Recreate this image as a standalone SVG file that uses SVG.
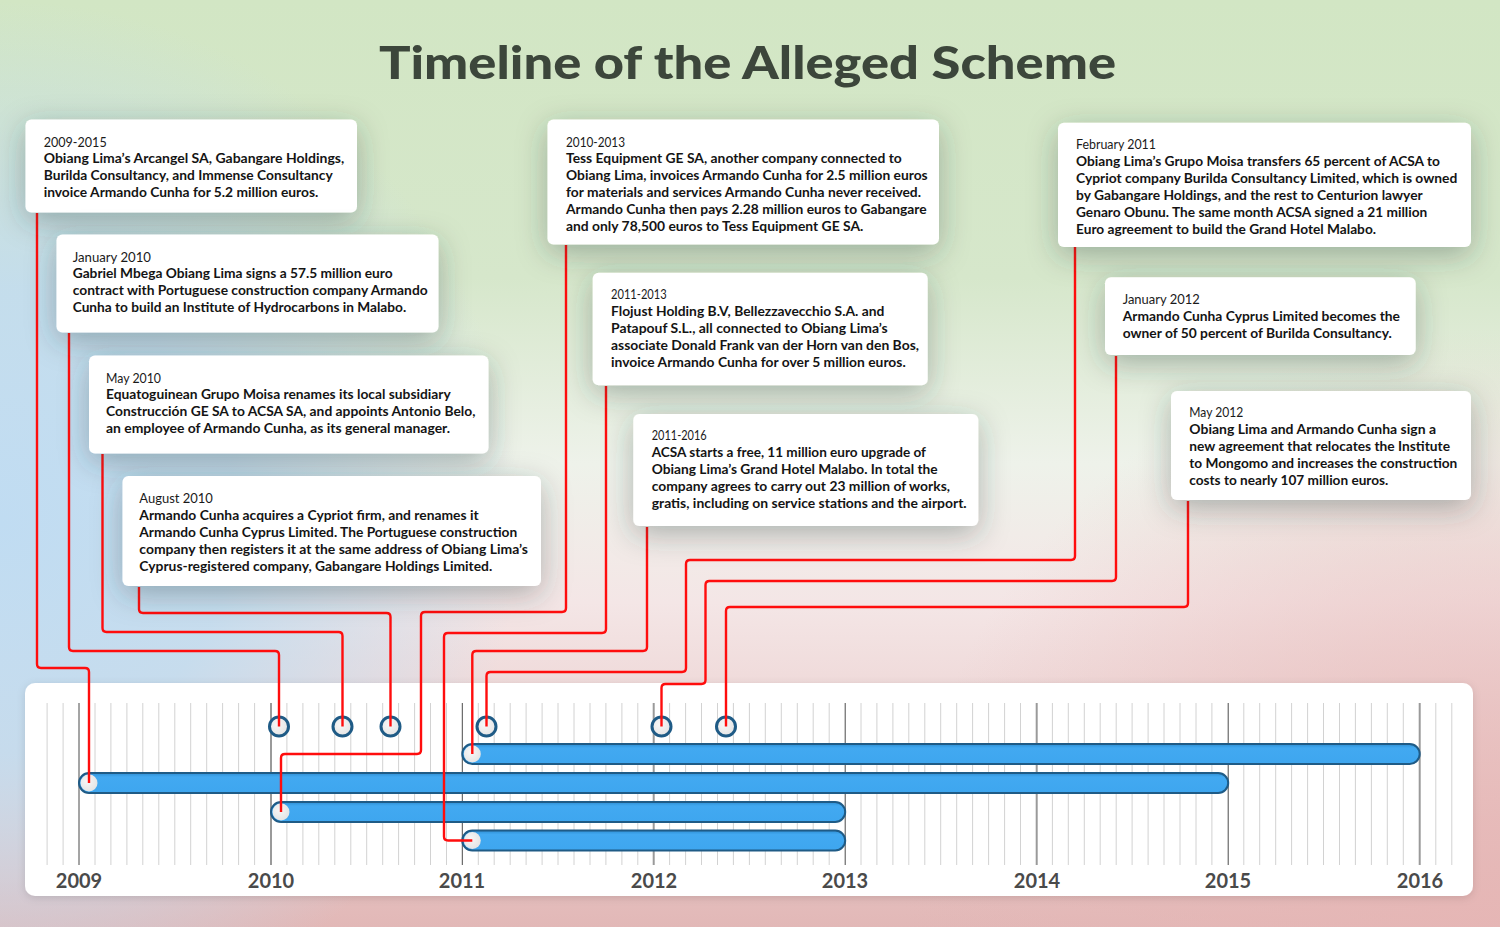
<svg xmlns="http://www.w3.org/2000/svg" width="1500" height="927" viewBox="0 0 1500 927">
<defs>
<linearGradient id="bgv" x1="0" y1="0" x2="0" y2="1">
<stop offset="0" stop-color="#d2e6c4"/>
<stop offset="0.3" stop-color="#d6e7cb"/>
<stop offset="0.5" stop-color="#eef2ea"/>
<stop offset="0.65" stop-color="#f4e6e6"/>
<stop offset="1" stop-color="#e2b8b7"/>
</linearGradient>
<radialGradient id="blue" cx="0" cy="520" r="520" gradientUnits="userSpaceOnUse">
<stop offset="0" stop-color="#c0dcf2" stop-opacity="1"/>
<stop offset="0.45" stop-color="#c2dcef" stop-opacity="0.9"/>
<stop offset="1" stop-color="#c2dcef" stop-opacity="0"/>
</radialGradient>
<radialGradient id="red" cx="1500" cy="927" r="600" gradientUnits="userSpaceOnUse">
<stop offset="0" stop-color="#e6b6b5" stop-opacity="0.9"/>
<stop offset="1" stop-color="#e6b6b5" stop-opacity="0"/>
</radialGradient>
<filter id="sh" x="-25%" y="-40%" width="150%" height="190%">
<feDropShadow dx="0" dy="8" stdDeviation="15" flood-color="#2a3a3a" flood-opacity="0.34"/>
</filter>
<filter id="sh2" x="-5%" y="-20%" width="110%" height="140%">
<feDropShadow dx="0" dy="2" stdDeviation="4" flood-color="#000" flood-opacity="0.12"/>
</filter>
<linearGradient id="barg" x1="0" y1="0" x2="0" y2="1">
<stop offset="0" stop-color="#2f8fd4"/>
<stop offset="0.2" stop-color="#42a9f1"/>
<stop offset="1" stop-color="#3ea6ef"/>
</linearGradient>
<radialGradient id="dot" cx="0.4" cy="0.4" r="0.7">
<stop offset="0" stop-color="#f7f7f7"/>
<stop offset="1" stop-color="#e2e2e2"/>
</radialGradient>
</defs>
<style>
.box{fill:#ffffff;filter:url(#sh)}
.dt{font-family:Lato,"Open Sans","Liberation Sans",sans-serif;font-size:13.5px;font-weight:400;fill:#1a1a1a}
.tx{font-family:Lato,"Open Sans","Liberation Sans",sans-serif;font-size:13.3px;font-weight:700;fill:#141414}
.yr{font-family:Lato,"Open Sans","Liberation Sans",sans-serif;font-size:20px;font-weight:700;fill:#4a4a4a;text-anchor:middle}
.mt{stroke:#d2d2d2;stroke-width:1}
.yo{stroke:#4a4a4a;stroke-width:1}
.ye{stroke:#9a9a9a;stroke-width:2}
.bar{fill:url(#barg);stroke:#1f5b86;stroke-width:2}
.bd{fill:url(#dot)}
.mk{fill:url(#dot);stroke:#1f5b86;stroke-width:3}
.cn{fill:none;stroke:#ff0d0d;stroke-width:2.4;stroke-linejoin:round;stroke-linecap:butt}
</style>

<g id="background">
<rect x="0" y="0" width="1500" height="927" fill="url(#bgv)"/>
<rect x="0" y="0" width="1500" height="927" fill="url(#blue)"/>
<rect x="0" y="0" width="1500" height="927" fill="url(#red)"/>
</g>

<text id="title" x="379" y="79" textLength="737" lengthAdjust="spacingAndGlyphs" style="font-family:Lato,'Open Sans','Liberation Sans',sans-serif;font-size:46px;font-weight:900;fill:#3c463b">Timeline of the Alleged Scheme</text>

<g id="panel">
<rect x="25" y="683" width="1448" height="213" rx="10" fill="#ffffff" filter="url(#sh2)"/>
<g id="ticks">
<line class="mt" x1="47.1" y1="703" x2="47.1" y2="865"/><line class="mt" x1="63.1" y1="703" x2="63.1" y2="865"/>
<line class="mt" x1="95" y1="703" x2="95" y2="865"/><line class="mt" x1="110.9" y1="703" x2="110.9" y2="865"/><line class="mt" x1="126.9" y1="703" x2="126.9" y2="865"/><line class="mt" x1="142.8" y1="703" x2="142.8" y2="865"/><line class="mt" x1="158.8" y1="703" x2="158.8" y2="865"/><line class="mt" x1="174.8" y1="703" x2="174.8" y2="865"/><line class="mt" x1="190.7" y1="703" x2="190.7" y2="865"/><line class="mt" x1="206.7" y1="703" x2="206.7" y2="865"/><line class="mt" x1="222.6" y1="703" x2="222.6" y2="865"/><line class="mt" x1="238.6" y1="703" x2="238.6" y2="865"/><line class="mt" x1="254.6" y1="703" x2="254.6" y2="865"/>
<line class="mt" x1="286.9" y1="703" x2="286.9" y2="865"/><line class="mt" x1="302.9" y1="703" x2="302.9" y2="865"/><line class="mt" x1="318.8" y1="703" x2="318.8" y2="865"/><line class="mt" x1="334.8" y1="703" x2="334.8" y2="865"/><line class="mt" x1="350.8" y1="703" x2="350.8" y2="865"/><line class="mt" x1="366.7" y1="703" x2="366.7" y2="865"/><line class="mt" x1="382.7" y1="703" x2="382.7" y2="865"/><line class="mt" x1="398.6" y1="703" x2="398.6" y2="865"/><line class="mt" x1="414.6" y1="703" x2="414.6" y2="865"/><line class="mt" x1="430.5" y1="703" x2="430.5" y2="865"/><line class="mt" x1="446.5" y1="703" x2="446.5" y2="865"/>
<line class="mt" x1="478.3" y1="703" x2="478.3" y2="865"/><line class="mt" x1="494.2" y1="703" x2="494.2" y2="865"/><line class="mt" x1="510.2" y1="703" x2="510.2" y2="865"/><line class="mt" x1="526.1" y1="703" x2="526.1" y2="865"/><line class="mt" x1="542.1" y1="703" x2="542.1" y2="865"/><line class="mt" x1="558" y1="703" x2="558" y2="865"/><line class="mt" x1="574" y1="703" x2="574" y2="865"/><line class="mt" x1="590" y1="703" x2="590" y2="865"/><line class="mt" x1="605.9" y1="703" x2="605.9" y2="865"/><line class="mt" x1="621.9" y1="703" x2="621.9" y2="865"/><line class="mt" x1="637.8" y1="703" x2="637.8" y2="865"/>
<line class="mt" x1="669.6" y1="703" x2="669.6" y2="865"/><line class="mt" x1="685.6" y1="703" x2="685.6" y2="865"/><line class="mt" x1="701.5" y1="703" x2="701.5" y2="865"/><line class="mt" x1="717.5" y1="703" x2="717.5" y2="865"/><line class="mt" x1="733.4" y1="703" x2="733.4" y2="865"/><line class="mt" x1="749.4" y1="703" x2="749.4" y2="865"/><line class="mt" x1="765.3" y1="703" x2="765.3" y2="865"/><line class="mt" x1="781.3" y1="703" x2="781.3" y2="865"/><line class="mt" x1="797.3" y1="703" x2="797.3" y2="865"/><line class="mt" x1="813.2" y1="703" x2="813.2" y2="865"/><line class="mt" x1="829.2" y1="703" x2="829.2" y2="865"/>
<line class="mt" x1="861" y1="703" x2="861" y2="865"/><line class="mt" x1="876.9" y1="703" x2="876.9" y2="865"/><line class="mt" x1="892.9" y1="703" x2="892.9" y2="865"/><line class="mt" x1="908.8" y1="703" x2="908.8" y2="865"/><line class="mt" x1="924.8" y1="703" x2="924.8" y2="865"/><line class="mt" x1="940.7" y1="703" x2="940.7" y2="865"/><line class="mt" x1="956.7" y1="703" x2="956.7" y2="865"/><line class="mt" x1="972.6" y1="703" x2="972.6" y2="865"/><line class="mt" x1="988.6" y1="703" x2="988.6" y2="865"/><line class="mt" x1="1004.6" y1="703" x2="1004.6" y2="865"/><line class="mt" x1="1020.5" y1="703" x2="1020.5" y2="865"/>
<line class="mt" x1="1052.4" y1="703" x2="1052.4" y2="865"/><line class="mt" x1="1068.3" y1="703" x2="1068.3" y2="865"/><line class="mt" x1="1084.3" y1="703" x2="1084.3" y2="865"/><line class="mt" x1="1100.2" y1="703" x2="1100.2" y2="865"/><line class="mt" x1="1116.2" y1="703" x2="1116.2" y2="865"/><line class="mt" x1="1132.1" y1="703" x2="1132.1" y2="865"/><line class="mt" x1="1148.1" y1="703" x2="1148.1" y2="865"/><line class="mt" x1="1164" y1="703" x2="1164" y2="865"/><line class="mt" x1="1180" y1="703" x2="1180" y2="865"/><line class="mt" x1="1196" y1="703" x2="1196" y2="865"/><line class="mt" x1="1211.9" y1="703" x2="1211.9" y2="865"/>
<line class="mt" x1="1243.8" y1="703" x2="1243.8" y2="865"/><line class="mt" x1="1259.7" y1="703" x2="1259.7" y2="865"/><line class="mt" x1="1275.7" y1="703" x2="1275.7" y2="865"/><line class="mt" x1="1291.6" y1="703" x2="1291.6" y2="865"/><line class="mt" x1="1307.6" y1="703" x2="1307.6" y2="865"/><line class="mt" x1="1323.5" y1="703" x2="1323.5" y2="865"/><line class="mt" x1="1339.5" y1="703" x2="1339.5" y2="865"/><line class="mt" x1="1355.4" y1="703" x2="1355.4" y2="865"/><line class="mt" x1="1371.4" y1="703" x2="1371.4" y2="865"/><line class="mt" x1="1387.3" y1="703" x2="1387.3" y2="865"/><line class="mt" x1="1403.3" y1="703" x2="1403.3" y2="865"/>
<line class="mt" x1="1435.8" y1="703" x2="1435.8" y2="865"/><line class="mt" x1="1451.8" y1="703" x2="1451.8" y2="865"/>
<line class="yo" x1="79" y1="703" x2="79" y2="865"/>
<line class="ye" x1="271" y1="703" x2="271" y2="865"/>
<line class="yo" x1="462.3" y1="703" x2="462.3" y2="865"/>
<line class="ye" x1="653.7" y1="703" x2="653.7" y2="865"/>
<line class="yo" x1="845.2" y1="703" x2="845.2" y2="865"/>
<line class="ye" x1="1036.7" y1="703" x2="1036.7" y2="865"/>
<line class="yo" x1="1228.2" y1="703" x2="1228.2" y2="865"/>
<line class="ye" x1="1419.7" y1="703" x2="1419.7" y2="865"/>
</g>
<g id="years">
<text class="yr" x="79" y="888">2009</text>
<text class="yr" x="271" y="888">2010</text>
<text class="yr" x="462" y="888">2011</text>
<text class="yr" x="654" y="888">2012</text>
<text class="yr" x="845" y="888">2013</text>
<text class="yr" x="1037" y="888">2014</text>
<text class="yr" x="1228" y="888">2015</text>
<text class="yr" x="1420" y="888">2016</text>
</g>
</g>

<g id="bars">
<g id="bar-2011-2016"><rect class="bar" x="462.3" y="744" width="957.4" height="20" rx="10"/><circle class="bd" cx="472.3" cy="754" r="8.5"/></g>
<g id="bar-2009-2015"><rect class="bar" x="79" y="773" width="1149.2" height="20" rx="10"/><circle class="bd" cx="89" cy="783" r="8.5"/></g>
<g id="bar-2010-2013"><rect class="bar" x="271" y="802" width="574.2" height="20" rx="10"/><circle class="bd" cx="281" cy="812" r="8.5"/></g>
<g id="bar-2011-2013"><rect class="bar" x="462.3" y="830.5" width="382.9" height="20" rx="10"/><circle class="bd" cx="472.3" cy="840.5" r="8.5"/></g>
</g>

<g id="markers">
<circle id="m-jan2010" class="mk" cx="279" cy="726.5" r="9.5"/>
<circle id="m-may2010" class="mk" cx="342.5" cy="726.5" r="9.5"/>
<circle id="m-aug2010" class="mk" cx="390.5" cy="726.5" r="9.5"/>
<circle id="m-feb2011" class="mk" cx="486.5" cy="726.5" r="9.5"/>
<circle id="m-jan2012" class="mk" cx="661.5" cy="726.5" r="9.5"/>
<circle id="m-may2012" class="mk" cx="726" cy="726.5" r="9.5"/>
</g>

<g id="connectors">
<path class="cn" d="M37,213 V664 Q37,668 41,668 H85 Q89,668 89,672 V783"/>
<path class="cn" d="M69,333 V647 Q69,651 73,651 H275 Q279,651 279,655 V726.5"/>
<path class="cn" d="M102.5,454 V628 Q102.5,632 106.5,632 H338.5 Q342.5,632 342.5,636 V726.5"/>
<path class="cn" d="M139,587 V609 Q139,613 143,613 H386.5 Q390.5,613 390.5,617 V726.5"/>
<path class="cn" d="M566,245 V608 Q566,612 562,612 H425 Q421,612 421,616 V750 Q421,754 417,754 H285 Q281,754 281,758 V812"/>
<path class="cn" d="M606,386 V629 Q606,633 602,633 H448 Q444,633 444,637 V836.5 Q444,840.5 448,840.5 H472.3"/>
<path class="cn" d="M647,527 V647 Q647,651 643,651 H476.3 Q472.3,651 472.3,655 V754"/>
<path class="cn" d="M1075,247 V556 Q1075,560 1071,560 H690 Q686,560 686,564 V668 Q686,672 682,672 H490.5 Q486.5,672 486.5,676 V726.5"/>
<path class="cn" d="M1116,356 V577 Q1116,581 1112,581 H709.5 Q705.5,581 705.5,585 V680 Q705.5,684 701.5,684 H665.5 Q661.5,684 661.5,688 V726.5"/>
<path class="cn" d="M1188,501 V603 Q1188,607 1184,607 H730 Q726,607 726,611 V726.5"/>
</g>

<g id="box-2009-2015">
<rect class="box" x="25.5" y="119.5" width="331.5" height="93" rx="6"/>
<text class="dt" x="43.7" y="146.7" textLength="63" lengthAdjust="spacingAndGlyphs">2009-2015</text>
<text class="tx" x="43.7" y="163.3" textLength="300.6" lengthAdjust="spacingAndGlyphs">Obiang Lima’s Arcangel SA, Gabangare Holdings,</text>
<text class="tx" x="43.7" y="180.3" textLength="289" lengthAdjust="spacingAndGlyphs">Burilda Consultancy, and Immense Consultancy</text>
<text class="tx" x="43.7" y="197.3" textLength="274.6" lengthAdjust="spacingAndGlyphs">invoice Armando Cunha for 5.2 million euros.</text>
</g>

<g id="box-jan-2010">
<rect class="box" x="56.5" y="234.5" width="382" height="98" rx="6"/>
<text class="dt" x="72.7" y="261.7" textLength="78.3" lengthAdjust="spacingAndGlyphs">January 2010</text>
<text class="tx" x="72.7" y="278.3" textLength="320" lengthAdjust="spacingAndGlyphs">Gabriel Mbega Obiang Lima signs a 57.5 million euro</text>
<text class="tx" x="72.7" y="295.3" textLength="355" lengthAdjust="spacingAndGlyphs">contract with Portuguese construction company Armando</text>
<text class="tx" x="72.7" y="312.3" textLength="333.5" lengthAdjust="spacingAndGlyphs">Cunha to build an Institute of Hydrocarbons in Malabo.</text>
</g>

<g id="box-may-2010">
<rect class="box" x="89" y="355.5" width="399.5" height="98" rx="6"/>
<text class="dt" x="106" y="382.7" textLength="55" lengthAdjust="spacingAndGlyphs">May 2010</text>
<text class="tx" x="106" y="399.3" textLength="344.7" lengthAdjust="spacingAndGlyphs">Equatoguinean Grupo Moisa renames its local subsidiary</text>
<text class="tx" x="106" y="416.3" textLength="369.4" lengthAdjust="spacingAndGlyphs">Construcción GE SA to ACSA SA, and appoints Antonio Belo,</text>
<text class="tx" x="106" y="433" textLength="344" lengthAdjust="spacingAndGlyphs">an employee of Armando Cunha, as its general manager.</text>
</g>

<g id="box-aug-2010">
<rect class="box" x="122.5" y="476" width="418.5" height="110" rx="6"/>
<text class="dt" x="139.3" y="503.3" textLength="73.6" lengthAdjust="spacingAndGlyphs">August 2010</text>
<text class="tx" x="139.3" y="520" textLength="339.3" lengthAdjust="spacingAndGlyphs">Armando Cunha acquires a Cypriot firm, and renames it</text>
<text class="tx" x="139.3" y="537" textLength="377.9" lengthAdjust="spacingAndGlyphs">Armando Cunha Cyprus Limited. The Portuguese construction</text>
<text class="tx" x="139.3" y="554" textLength="388.6" lengthAdjust="spacingAndGlyphs">company then registers it at the same address of Obiang Lima’s</text>
<text class="tx" x="139.3" y="571" textLength="352.9" lengthAdjust="spacingAndGlyphs">Cyprus-registered company, Gabangare Holdings Limited.</text>
</g>

<g id="box-2010-2013">
<rect class="box" x="547.5" y="119.5" width="391.5" height="125" rx="6"/>
<text class="dt" x="566" y="146.7" textLength="59" lengthAdjust="spacingAndGlyphs">2010-2013</text>
<text class="tx" x="566" y="163.3" textLength="335.7" lengthAdjust="spacingAndGlyphs">Tess Equipment GE SA, another company connected to</text>
<text class="tx" x="566" y="180.3" textLength="361.7" lengthAdjust="spacingAndGlyphs">Obiang Lima, invoices Armando Cunha for 2.5 million euros</text>
<text class="tx" x="566" y="197.3" textLength="355" lengthAdjust="spacingAndGlyphs">for materials and services Armando Cunha never received.</text>
<text class="tx" x="566" y="214.3" textLength="360.7" lengthAdjust="spacingAndGlyphs">Armando Cunha then pays 2.28 million euros to Gabangare</text>
<text class="tx" x="566" y="231.3" textLength="297.3" lengthAdjust="spacingAndGlyphs">and only 78,500 euros to Tess Equipment GE SA.</text>
</g>

<g id="box-2011-2013">
<rect class="box" x="592.7" y="272.7" width="335" height="112.6" rx="6"/>
<text class="dt" x="611" y="299" textLength="55.7" lengthAdjust="spacingAndGlyphs">2011-2013</text>
<text class="tx" x="611" y="316" textLength="273.3" lengthAdjust="spacingAndGlyphs">Flojust Holding B.V, Bellezzavecchio S.A. and</text>
<text class="tx" x="611" y="333" textLength="276.7" lengthAdjust="spacingAndGlyphs">Patapouf S.L., all connected to Obiang Lima’s</text>
<text class="tx" x="611" y="350" textLength="308" lengthAdjust="spacingAndGlyphs">associate Donald Frank van der Horn van den Bos,</text>
<text class="tx" x="611" y="366.5" textLength="294.7" lengthAdjust="spacingAndGlyphs">invoice Armando Cunha for over 5 million euros.</text>
</g>

<g id="box-2011-2016">
<rect class="box" x="633.3" y="414" width="345" height="112" rx="6"/>
<text class="dt" x="651.7" y="440.3" textLength="55" lengthAdjust="spacingAndGlyphs">2011-2016</text>
<text class="tx" x="651.7" y="457.3" textLength="274.3" lengthAdjust="spacingAndGlyphs">ACSA starts a free, 11 million euro upgrade of</text>
<text class="tx" x="651.7" y="474.3" textLength="286" lengthAdjust="spacingAndGlyphs">Obiang Lima’s Grand Hotel Malabo. In total the</text>
<text class="tx" x="651.7" y="491" textLength="298.3" lengthAdjust="spacingAndGlyphs">company agrees to carry out 23 million of works,</text>
<text class="tx" x="651.7" y="508" textLength="315" lengthAdjust="spacingAndGlyphs">gratis, including on service stations and the airport.</text>
</g>

<g id="box-feb-2011">
<rect class="box" x="1058" y="122.7" width="413" height="124.3" rx="6"/>
<text class="dt" x="1076" y="149.3" textLength="80" lengthAdjust="spacingAndGlyphs">February 2011</text>
<text class="tx" x="1076" y="166.3" textLength="364" lengthAdjust="spacingAndGlyphs">Obiang Lima’s Grupo Moisa transfers 65 percent of ACSA to</text>
<text class="tx" x="1076" y="183.3" textLength="381.3" lengthAdjust="spacingAndGlyphs">Cypriot company Burilda Consultancy Limited, which is owned</text>
<text class="tx" x="1076" y="200.3" textLength="346.7" lengthAdjust="spacingAndGlyphs">by Gabangare Holdings, and the rest to Centurion lawyer</text>
<text class="tx" x="1076" y="217" textLength="351.3" lengthAdjust="spacingAndGlyphs">Genaro Obunu. The same month ACSA signed a 21 million</text>
<text class="tx" x="1076" y="233.7" textLength="300" lengthAdjust="spacingAndGlyphs">Euro agreement to build the Grand Hotel Malabo.</text>
</g>

<g id="box-jan-2012">
<rect class="box" x="1105" y="277.3" width="310.7" height="77.7" rx="6"/>
<text class="dt" x="1122.7" y="304.3" textLength="77" lengthAdjust="spacingAndGlyphs">January 2012</text>
<text class="tx" x="1122.7" y="321.3" textLength="277.3" lengthAdjust="spacingAndGlyphs">Armando Cunha Cyprus Limited becomes the</text>
<text class="tx" x="1122.7" y="337.7" textLength="269" lengthAdjust="spacingAndGlyphs">owner of 50 percent of Burilda Consultancy.</text>
</g>

<g id="box-may-2012">
<rect class="box" x="1171" y="391" width="300" height="109" rx="6"/>
<text class="dt" x="1189.3" y="417.3" textLength="54" lengthAdjust="spacingAndGlyphs">May 2012</text>
<text class="tx" x="1189.3" y="434.3" textLength="246.7" lengthAdjust="spacingAndGlyphs">Obiang Lima and Armando Cunha sign a</text>
<text class="tx" x="1189.3" y="451.3" textLength="260.7" lengthAdjust="spacingAndGlyphs">new agreement that relocates the Institute</text>
<text class="tx" x="1189.3" y="468.3" textLength="268" lengthAdjust="spacingAndGlyphs">to Mongomo and increases the construction</text>
<text class="tx" x="1189.3" y="485" textLength="199" lengthAdjust="spacingAndGlyphs">costs to nearly 107 million euros.</text>
</g>
</svg>
